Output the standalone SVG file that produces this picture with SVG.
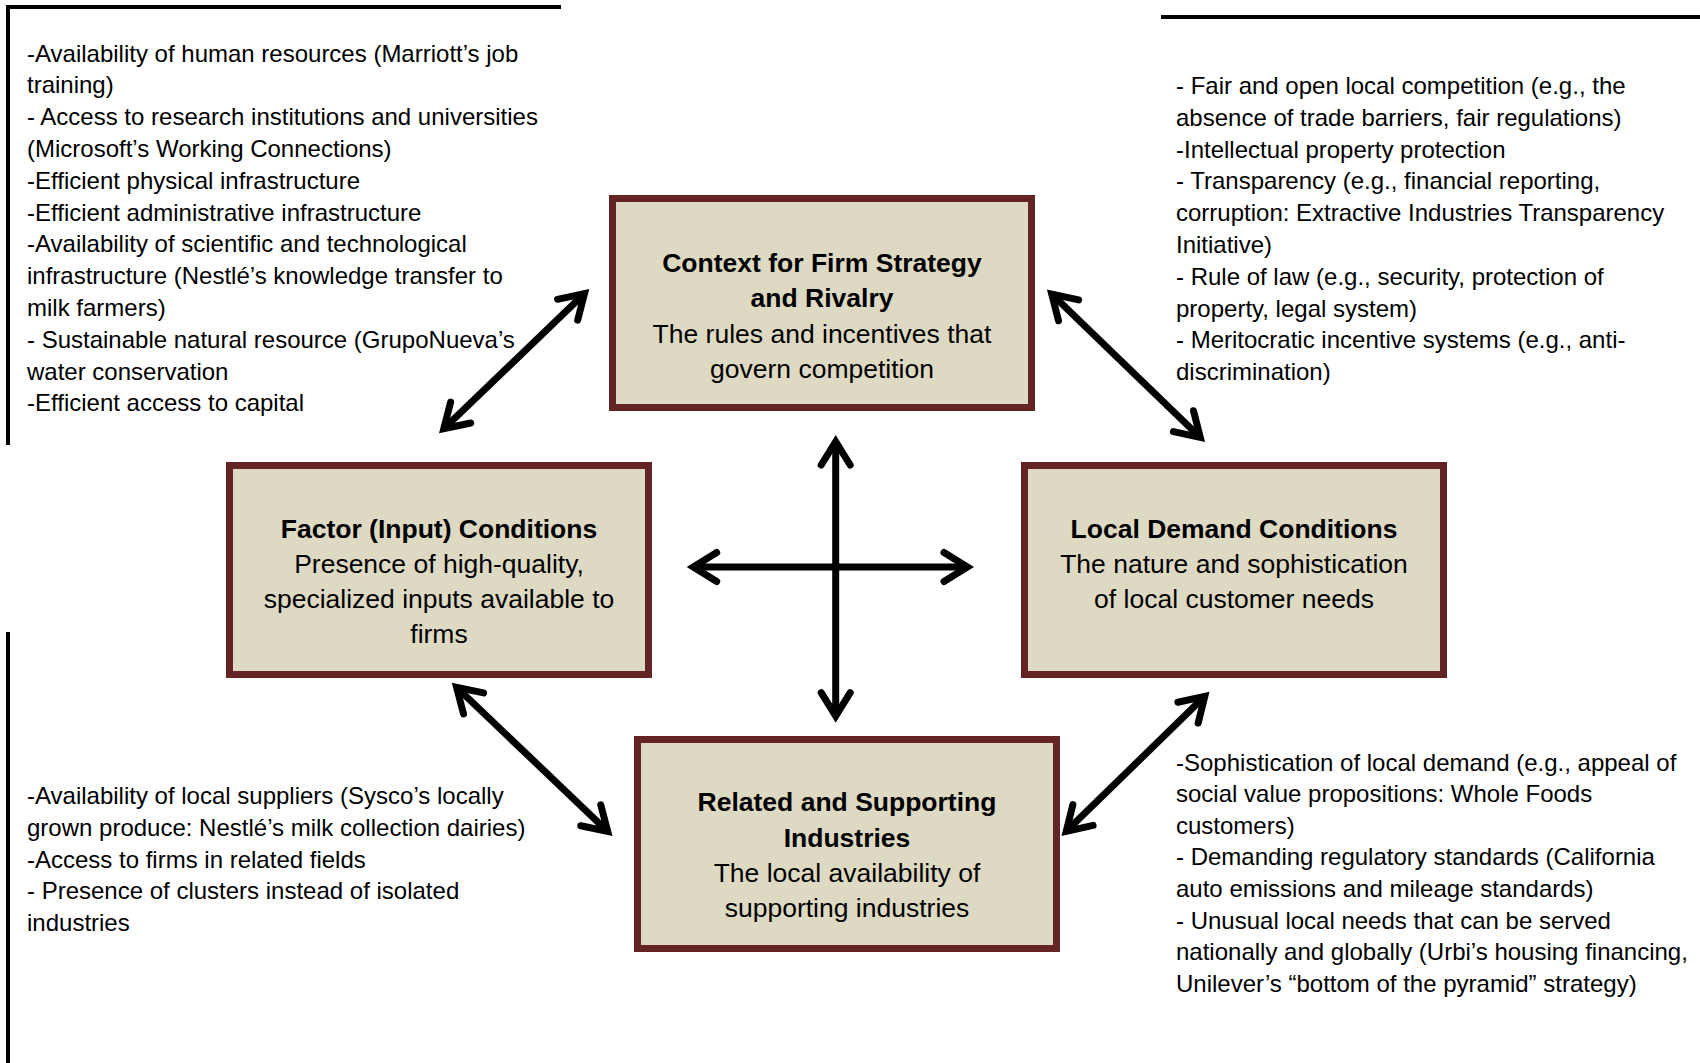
<svg xmlns="http://www.w3.org/2000/svg" width="1700" height="1063" viewBox="0 0 1700 1063">
  <style>
    .frame { stroke: #000; stroke-width: 4; fill: none; }
    .box { fill: #DDD9C3; stroke: #632423; stroke-width: 7; }
    .title { font-family: "Liberation Sans", Arial, sans-serif; font-size: 26.5px; font-weight: bold; fill: #000; text-anchor: middle; }
    .sub { font-family: "Liberation Sans", Arial, sans-serif; font-size: 26.5px; fill: #000; text-anchor: middle; }
    .note { font-family: "Liberation Sans", Arial, sans-serif; font-size: 24px; fill: #000; }
    .link { stroke: #000; stroke-width: 7; fill: none; marker-start: url(#head); marker-end: url(#head); }
  </style>
  <defs>
    <marker id="head" markerUnits="userSpaceOnUse" orient="auto-start-reverse" refX="-12" refY="0" markerWidth="40" markerHeight="40" overflow="visible">
      <path d="M -30 -14.5 L -6.6 0 L -30 14.5" fill="none" stroke="#000" stroke-width="7" stroke-linecap="round" stroke-linejoin="miter"/>
    </marker>
  </defs>

  <rect width="1700" height="1063" fill="#fff"/>

  <!-- bracket lines framing the note blocks -->
  <g id="frames">
    <path class="frame" d="M 8 445 L 8 7 L 561 7"/>
    <path class="frame" d="M 1161 17 L 1700 17"/>
    <path class="frame" d="M 8 632 L 8 1063"/>
  </g>

  <!-- notes -->
  <g id="note-factor">
    <text class="note" x="27" y="61.5">
      <tspan x="27">-Availability of human resources (Marriott’s job</tspan>
      <tspan x="27" dy="31.8">training)</tspan>
      <tspan x="27" dy="31.8">- Access to research institutions and universities</tspan>
      <tspan x="27" dy="31.8">(Microsoft’s Working Connections)</tspan>
      <tspan x="27" dy="31.8">-Efficient physical infrastructure</tspan>
      <tspan x="27" dy="31.8">-Efficient administrative infrastructure</tspan>
      <tspan x="27" dy="31.8">-Availability of scientific and technological</tspan>
      <tspan x="27" dy="31.8">infrastructure (Nestlé’s knowledge transfer to</tspan>
      <tspan x="27" dy="31.8">milk farmers)</tspan>
      <tspan x="27" dy="31.8">- Sustainable natural resource (GrupoNueva’s</tspan>
      <tspan x="27" dy="31.8">water conservation</tspan>
      <tspan x="27" dy="31.8">-Efficient access to capital</tspan>
    </text>
  </g>

  <g id="note-context">
    <text class="note" x="1176" y="94">
      <tspan x="1176">- Fair and open local competition (e.g., the</tspan>
      <tspan x="1176" dy="31.8">absence of trade barriers, fair regulations)</tspan>
      <tspan x="1176" dy="31.8">-Intellectual property protection</tspan>
      <tspan x="1176" dy="31.8">- Transparency (e.g., financial reporting,</tspan>
      <tspan x="1176" dy="31.8">corruption: Extractive Industries Transparency</tspan>
      <tspan x="1176" dy="31.8">Initiative)</tspan>
      <tspan x="1176" dy="31.8">- Rule of law (e.g., security, protection of</tspan>
      <tspan x="1176" dy="31.8">property, legal system)</tspan>
      <tspan x="1176" dy="31.8">- Meritocratic incentive systems (e.g., anti-</tspan>
      <tspan x="1176" dy="31.8">discrimination)</tspan>
    </text>
  </g>

  <g id="note-related">
    <text class="note" x="27" y="804">
      <tspan x="27">-Availability of local suppliers (Sysco’s locally</tspan>
      <tspan x="27" dy="31.8">grown produce: Nestlé’s milk collection dairies)</tspan>
      <tspan x="27" dy="31.8">-Access to firms in related fields</tspan>
      <tspan x="27" dy="31.8">- Presence of clusters instead of isolated</tspan>
      <tspan x="27" dy="31.8">industries</tspan>
    </text>
  </g>

  <g id="note-demand">
    <text class="note" x="1176" y="770.5">
      <tspan x="1176">-Sophistication of local demand (e.g., appeal of</tspan>
      <tspan x="1176" dy="31.6">social value propositions: Whole Foods</tspan>
      <tspan x="1176" dy="31.6">customers)</tspan>
      <tspan x="1176" dy="31.6">- Demanding regulatory standards (California</tspan>
      <tspan x="1176" dy="31.6">auto emissions and mileage standards)</tspan>
      <tspan x="1176" dy="31.6">- Unusual local needs that can be served</tspan>
      <tspan x="1176" dy="31.6">nationally and globally (Urbi’s housing financing,</tspan>
      <tspan x="1176" dy="31.6">Unilever’s “bottom of the pyramid” strategy)</tspan>
    </text>
  </g>

  <!-- the four determinants -->
  <g id="node-context">
    <rect class="box" x="612.5" y="198.5" width="419" height="209"/>
    <text class="title" x="822" y="272">Context for Firm Strategy</text>
    <text class="title" x="822" y="306.5">and Rivalry</text>
    <text class="sub" x="822" y="343">The rules and incentives that</text>
    <text class="sub" x="822" y="378">govern competition</text>
  </g>

  <g id="node-factor">
    <rect class="box" x="229.5" y="465.5" width="419" height="209"/>
    <text class="title" x="439" y="538">Factor (Input) Conditions</text>
    <text class="sub" x="439" y="573">Presence of high-quality,</text>
    <text class="sub" x="439" y="608">specialized inputs available to</text>
    <text class="sub" x="439" y="643">firms</text>
  </g>

  <g id="node-demand">
    <rect class="box" x="1024.5" y="465.5" width="419" height="209"/>
    <text class="title" x="1234" y="537.5">Local Demand Conditions</text>
    <text class="sub" x="1234" y="572.5">The nature and sophistication</text>
    <text class="sub" x="1234" y="607.5">of local customer needs</text>
  </g>

  <g id="node-related">
    <rect class="box" x="637.5" y="739.5" width="419" height="209"/>
    <text class="title" x="847" y="811">Related and Supporting</text>
    <text class="title" x="847" y="846.5">Industries</text>
    <text class="sub" x="847" y="882">The local availability of</text>
    <text class="sub" x="847" y="916.5">supporting industries</text>
  </g>

  <!-- two-way links between the determinants -->
  <g id="connectors">
    <line class="link" x1="447.7" y1="425" x2="580.6" y2="297.3"/>
    <line class="link" x1="1055.6" y1="297.8" x2="1196.4" y2="433.7"/>
    <line class="link" x1="460.5" y1="691" x2="603.8" y2="827.7"/>
    <line class="link" x1="1200.9" y1="700.1" x2="1070.1" y2="827.6"/>
    <line class="link" x1="835.7" y1="447" x2="835.7" y2="710.7"/>
    <line class="link" x1="698.7" y1="567" x2="962" y2="567"/>
  </g>
</svg>
